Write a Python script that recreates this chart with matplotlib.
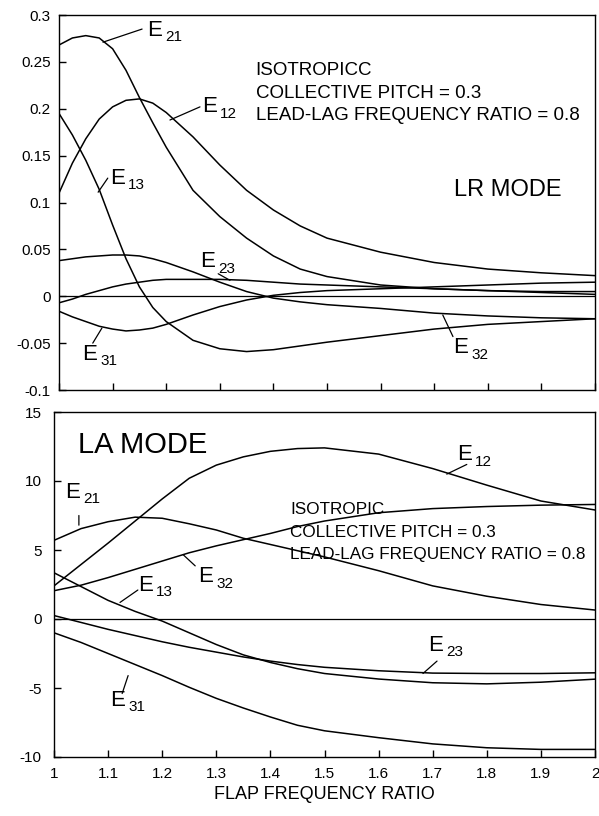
# LR / LA mode coupling coefficients vs flap frequency ratio
import matplotlib
matplotlib.use('Agg')
import matplotlib.pyplot as plt

plt.rcParams['font.family'] = ['Liberation Sans', 'DejaVu Sans']

# LR mode (top panel)
lr_x = [1.0, 1.025, 1.05, 1.075, 1.1, 1.125, 1.15, 1.175, 1.2, 1.25,
        1.3, 1.35, 1.4, 1.45, 1.5, 1.6, 1.7, 1.8, 1.9, 2.0]
lr_E21 = [0.268, 0.2755, 0.278, 0.2755, 0.264, 0.241, 0.212, 0.185, 0.159, 0.113,
          0.085, 0.062, 0.043, 0.029, 0.021, 0.012, 0.008, 0.006, 0.005, 0.005]
lr_E12 = [0.110, 0.142, 0.168, 0.189, 0.202, 0.209, 0.2105, 0.206, 0.196, 0.170,
          0.140, 0.113, 0.092, 0.075, 0.062, 0.047, 0.036, 0.029, 0.025, 0.022]
lr_E13 = [0.195, 0.172, 0.145, 0.114, 0.076, 0.040, 0.010, -0.012, -0.027, -0.047,
          -0.056, -0.059, -0.057, -0.053, -0.049, -0.042, -0.035, -0.030, -0.027, -0.024]
lr_E32 = [0.038, 0.040, 0.042, 0.043, 0.044, 0.044, 0.043, 0.040, 0.036, 0.026,
          0.015, 0.005, -0.002, -0.006, -0.009, -0.013, -0.018, -0.021, -0.023, -0.024]
lr_E23 = [-0.007, -0.003, 0.002, 0.006, 0.010, 0.013, 0.015, 0.017, 0.018, 0.018,
          0.018, 0.017, 0.015, 0.013, 0.012, 0.010, 0.008, 0.006, 0.004, 0.002]
lr_E31 = [-0.016, -0.022, -0.027, -0.032, -0.035, -0.037, -0.036, -0.034, -0.030, -0.020,
          -0.011, -0.004, 0.001, 0.004, 0.006, 0.008, 0.010, 0.012, 0.014, 0.015]

# LA mode (bottom panel)
la_x = [1.0, 1.05, 1.1, 1.15, 1.2, 1.25, 1.3, 1.35, 1.4, 1.45,
        1.5, 1.6, 1.7, 1.8, 1.9, 2.0]
la_E12 = [2.4, 3.95, 5.5, 7.1, 8.7, 10.2, 11.15, 11.75, 12.15, 12.35,
          12.4, 11.95, 10.9, 9.7, 8.55, 7.9]
la_E21 = [5.7, 6.55, 7.05, 7.38, 7.3, 6.9, 6.45, 5.85, 5.4, 4.95,
          4.5, 3.5, 2.4, 1.65, 1.05, 0.65]
la_E32 = [2.05, 2.45, 3.0, 3.6, 4.2, 4.8, 5.3, 5.75, 6.2, 6.7,
          7.1, 7.7, 8.0, 8.15, 8.25, 8.3]
la_E13 = [3.35, 2.35, 1.35, 0.55, -0.15, -1.0, -1.85, -2.6, -3.15, -3.6,
          -3.95, -4.35, -4.62, -4.7, -4.58, -4.36]
la_E23 = [0.25, -0.25, -0.75, -1.2, -1.65, -2.05, -2.4, -2.75, -3.05, -3.3,
          -3.5, -3.75, -3.92, -3.95, -3.95, -3.9]
la_E31 = [-1.0, -1.7, -2.5, -3.3, -4.1, -4.95, -5.75, -6.45, -7.1, -7.7,
          -8.1, -8.6, -9.05, -9.33, -9.45, -9.45]

lr_yticks = [-0.1, -0.05, 0, 0.05, 0.1, 0.15, 0.2, 0.25, 0.3]
lr_ylabels = ['-0.1', '-0.05', '0', '0.05', '0.1', '0.15', '0.2', '0.25', '0.3']
la_yticks = [-10, -5, 0, 5, 10, 15]
xticks = [1.0, 1.1, 1.2, 1.3, 1.4, 1.5, 1.6, 1.7, 1.8, 1.9, 2.0]
xlabels = ['1', '1.1', '1.2', '1.3', '1.4', '1.5', '1.6', '1.7', '1.8', '1.9', '2']

lr_params = ['ISOTROPICC', 'COLLECTIVE PITCH = 0.3', 'LEAD-LAG FREQUENCY RATIO = 0.8']
la_params = ['ISOTROPIC', 'COLLECTIVE PITCH = 0.3', 'LEAD-LAG FREQUENCY RATIO = 0.8']

LW = 1.1


def elabel(ax, x, y, sub, lead):
    # "E" with a separate subscript and a thin leader line to the curve
    ax.text(x, y, 'E', fontsize=16, ha='left', va='center')
    ax.annotate(sub, xy=(x, y), xytext=(13, -5), textcoords='offset points',
                fontsize=11, ha='left', va='center')
    ax.annotate('', xy=lead[1], xytext=lead[0],
                arrowprops=dict(arrowstyle='-', lw=0.9, color='k',
                                shrinkA=0, shrinkB=0))


def style(ax):
    for s in ax.spines.values():
        s.set_linewidth(1.0)
    ax.tick_params(direction='in', length=5, width=1, top=False, right=False)
    ax.set_xlim(1, 2)
    ax.set_xticks(xticks)
    ax.axhline(0, color='k', lw=0.9)


fig = plt.figure(figsize=(5.99, 8.16), dpi=100)
ax1 = fig.add_axes([59/599, 1-390/816, 536/599, 375/816])
ax2 = fig.add_axes([54/599, 1-757/816, 541/599, 345/816])

# ---------------- LR mode ----------------
for ys in [lr_E21, lr_E12, lr_E13, lr_E32, lr_E23, lr_E31]:
    ax1.plot(lr_x, ys, color='k', lw=LW)
style(ax1)
ax1.set_ylim(-0.1, 0.3)
ax1.set_yticks(lr_yticks)
ax1.set_yticklabels(lr_ylabels, fontsize=11)
ax1.tick_params(axis='y', pad=6)
ax1.set_xticklabels([])

for i, t in enumerate(lr_params):
    ax1.text(1.367, 0.2413 - i*0.0245, t, fontsize=13.5, ha='left', va='center')
ax1.text(1.838, 0.1133, 'LR MODE', fontsize=17, ha='center', va='center')

elabel(ax1, 1.164, 0.284, '21', ((1.082, 0.271), (1.155, 0.285)))
elabel(ax1, 1.267, 0.202, '12', ((1.207, 0.188), (1.263, 0.202)))
elabel(ax1, 1.095, 0.126, '13', ((1.073, 0.111), (1.091, 0.126)))
elabel(ax1, 1.263, 0.037, '23', ((1.297, 0.024), (1.319, 0.017)))
elabel(ax1, 1.043, -0.062, '31', ((1.063, -0.050), (1.080, -0.034)))
elabel(ax1, 1.735, -0.055, '32', ((1.735, -0.043), (1.716, -0.020)))

# ---------------- LA mode ----------------
for ys in [la_E12, la_E21, la_E32, la_E13, la_E23, la_E31]:
    ax2.plot(la_x, ys, color='k', lw=LW)
style(ax2)
ax2.set_ylim(-10, 15)
ax2.set_yticks(la_yticks)
ax2.set_yticklabels([str(v) for v in la_yticks], fontsize=11)
ax2.tick_params(axis='y', pad=9)
ax2.set_xticklabels(xlabels, fontsize=11)
ax2.tick_params(axis='x', pad=7)
ax2.set_xlabel('FLAP FREQUENCY RATIO', fontsize=13, labelpad=4)

for i, t in enumerate(la_params):
    ax2.text(1.436, 7.9 - i*1.6, t, fontsize=12.3, ha='left', va='center')
ax2.text(1.045, 12.6, 'LA MODE', fontsize=21, ha='left', va='center')

elabel(ax2, 1.02, 9.2, '21', ((1.046, 7.5), (1.046, 6.8)))
elabel(ax2, 1.745, 11.9, '12', ((1.763, 11.2), (1.726, 10.5)))
elabel(ax2, 1.266, 3.05, '32', ((1.261, 3.85), (1.239, 4.65)))
elabel(ax2, 1.155, 2.45, '13', ((1.155, 2.1), (1.122, 1.2)))
elabel(ax2, 1.691, -1.9, '23', ((1.708, -3.05), (1.682, -3.95)))
elabel(ax2, 1.104, -5.9, '31', ((1.126, -5.4), (1.137, -4.1)))

fig.savefig('out.png', dpi=100)
